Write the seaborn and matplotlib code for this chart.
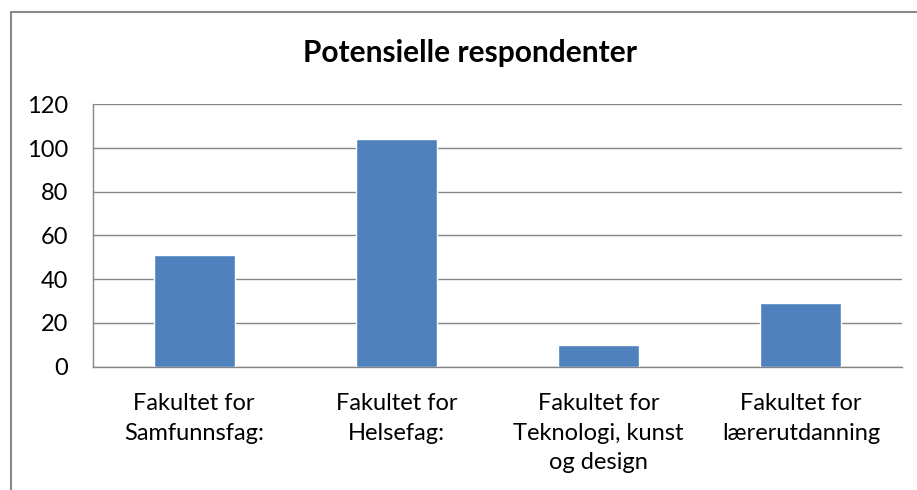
import matplotlib
matplotlib.use("Agg")
import matplotlib.pyplot as plt
import seaborn as sns
import pandas as pd
from matplotlib.lines import Line2D

categories = ["Fakultet for\nSamfunnsfag:", "Fakultet for\nHelsefag:",
              "Fakultet for\nTeknologi, kunst\nog design", "Fakultet for\nlærerutdanning"]
values = [51, 104, 10, 29]
yticks = [0, 20, 40, 60, 80, 100, 120]
title = "Potensielle respondenter"

sns.set_theme(style="white")
plt.rcParams['font.family'] = ['Lato', 'DejaVu Sans']

W, H = 917, 490
fig = plt.figure(figsize=(W / 100, H / 100), dpi=100)
ax = fig.add_axes([93 / W, 1 - 366.7 / H, (902 - 93) / W, (366.7 - 104.3) / H])

df = pd.DataFrame({"cat": categories, "val": values})
sns.barplot(data=df, x="cat", y="val", color="#4F81BD", saturation=1, width=0.4, ax=ax, zorder=3)

ax.set_ylim(0, 120)
ax.set_xlim(-0.5, 3.5)
ax.set_yticks(yticks)
ax.set_yticklabels([str(v) for v in yticks])
ax.yaxis.grid(True, color="#868686", linewidth=1.0, zorder=0)
ax.set_axisbelow(True)
ax.set_xlabel("")
ax.set_ylabel("")
for s in ["top", "right"]:
    ax.spines[s].set_visible(False)
for s in ["left", "bottom"]:
    ax.spines[s].set_color("#868686")
    ax.spines[s].set_linewidth(1.0)
ax.tick_params(axis="y", length=0, pad=18, labelsize=17, labelcolor="black")
ax.tick_params(axis="x", length=0, pad=19, labelsize=17, labelcolor="black")
for lab in ax.get_xticklabels():
    lab.set_linespacing(1.5)

fig.text(470 / W, 1 - 53 / H, title, ha="center", va="center", fontsize=21.5, fontweight="bold", color="black")

# chart-area border (left and top visible)
fig.add_artist(Line2D([11 / W, 11 / W], [0, 1 - 12 / H], color="#888888", linewidth=1.5, transform=fig.transFigure))
fig.add_artist(Line2D([11 / W, 1], [1 - 12 / H, 1 - 12 / H], color="#888888", linewidth=1.5, transform=fig.transFigure))

fig.savefig("out.png", dpi=100)
